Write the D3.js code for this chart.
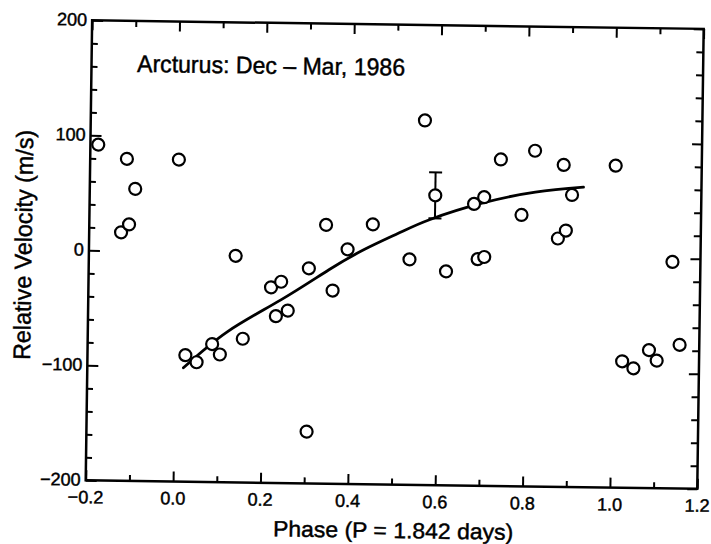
<!DOCTYPE html>
<html>
<head>
<meta charset="utf-8">
<script src="https://cdn.jsdelivr.net/npm/d3@7"></script>
<style>
  html, body { margin: 0; padding: 0; background: #fff; }
  svg { display: block; }
  text { font-family: "Liberation Sans", Arial, sans-serif; fill: #000; stroke: #000; stroke-width: 0.45; }
</style>
</head>
<body>
<svg id="chart" width="711" height="544"></svg>
<script>
// observed radial velocities (phase, m/s)
const phase = [
    -0.182, -0.116, -0.096, -0.127, -0.109, 0.003,
    0.024, 0.050, 0.085, 0.103, 0.136, 0.155,
    0.218, 0.241, 0.230, 0.257, 0.304, 0.304, 0.342, 0.359, 0.392,
    0.449, 0.534, 0.565, 0.618, 0.680, 0.690, 0.703, 0.705,
    0.740, 0.789, 0.818, 0.873, 0.884, 0.891, 0.904, 1.003,
    1.024, 1.050, 1.085, 1.103, 1.136, 1.155
];
const velocity = [
    92, 80, 54, 16, 23, 80,
    -90, -96, -80, -89, -3, -75,
    -30, -25, -55, -50, -13, -155, 25, -32, 4,
    26, -4, 117, -14, 45, -3, 51, -1,
    84, 36, 92, 16, 80, 23, 54, 80,
    -90, -96, -80, -89, -3, -75
];

// the one point with an error bar
const errPhase = [0.591];
const errVelocity = [52];
const errSize = [20];

// fitted curve
const fitPhase = [0.02, 0.12, 0.24, 0.35, 0.43, 0.51, 0.58, 0.70, 0.82, 0.93];
const fitVelocity = [-101, -69, -41, -14, 4, 19, 31, 46, 56, 61];

// axis ticks
const xTicks = [-0.2, 0.0, 0.2, 0.4, 0.6, 0.8, 1.0, 1.2];
const xTickLabels = ['\u22120.2', '0.0', '0.2', '0.4', '0.6', '0.8', '1.0', '1.2'];
const yTicks = [-200, -100, 0, 100, 200];
const yTickLabels = ['\u2212200', '\u2212100', '0', '100', '200'];

const svg = d3.select('#chart');

const L = 88.9, R = 700.5, T = 24.6, B = 484.6;
const CX = (L + R) / 2, CY = (T + B) / 2;
const ANGLE = 0.8; // the scanned page is slightly tilted

const x = d3.scaleLinear().domain([-0.2, 1.2]).range([L, R]);
const y = d3.scaleLinear().domain([-200, 200]).range([B, T]);

const g = svg.append('g')
    .attr('transform', `rotate(${ANGLE},${CX},${CY})`);

// frame
g.append('rect')
    .attr('x', L).attr('y', T)
    .attr('width', R - L).attr('height', B - T)
    .attr('fill', 'none')
    .attr('stroke', '#000')
    .attr('stroke-width', 2.5);

const minorX = d3.range(-0.1, 1.2, 0.2);
const minorY = d3.range(-180, 200, 20).filter(v => Math.abs(v % 100) > 1);

const noDomain = sel => {
    sel.select('.domain').remove();
    sel.selectAll('.tick line').attr('stroke', '#000').attr('stroke-width', 2);
};

const addAxis = (axis, transform) => {
    g.append('g')
        .attr('transform', transform)
        .call(axis.tickFormat(''))
        .call(noDomain);
};

addAxis(d3.axisBottom(x).tickValues(xTicks).tickSize(-10), `translate(0,${B})`);
addAxis(d3.axisBottom(x).tickValues(minorX).tickSize(-6), `translate(0,${B})`);
addAxis(d3.axisTop(x).tickValues(xTicks).tickSize(-10), `translate(0,${T})`);
addAxis(d3.axisTop(x).tickValues(minorX).tickSize(-6), `translate(0,${T})`);
addAxis(d3.axisLeft(y).tickValues(yTicks).tickSize(-11), `translate(${L},0)`);
addAxis(d3.axisLeft(y).tickValues(minorY).tickSize(-6), `translate(${L},0)`);
addAxis(d3.axisRight(y).tickValues(yTicks).tickSize(-10), `translate(${R},0)`);
addAxis(d3.axisRight(y).tickValues(minorY).tickSize(-7), `translate(${R},0)`);

// fitted curve
const fit = fitPhase.map((p, i) => [p, fitVelocity[i]]);
g.append('path')
    .datum(fit)
    .attr('fill', 'none')
    .attr('stroke', '#000')
    .attr('stroke-width', 2.8)
    .attr('stroke-linecap', 'round')
    .attr('d', d3.line()
        .x(d => x(d[0]))
        .y(d => y(d[1]))
        .curve(d3.curveNatural));

// error bar
errPhase.forEach((p, i) => {
    const lo = errVelocity[i] - errSize[i], hi = errVelocity[i] + errSize[i];
    const eb = g.append('g')
        .attr('stroke', '#000')
        .attr('stroke-width', 2);
    eb.append('line')
        .attr('x1', x(p)).attr('x2', x(p))
        .attr('y1', y(lo)).attr('y2', y(hi));
    [lo, hi].forEach(v => {
        eb.append('line')
            .attr('x1', x(p) - 6.5).attr('x2', x(p) + 6.5)
            .attr('y1', y(v)).attr('y2', y(v));
    });
});

// points
const points = phase.map((p, i) => ({p, v: velocity[i]}))
    .concat(errPhase.map((p, i) => ({p, v: errVelocity[i]})));
g.selectAll('circle.obs')
    .data(points)
    .join('circle')
    .attr('class', 'obs')
    .attr('cx', d => x(d.p))
    .attr('cy', d => y(d.v))
    .attr('r', 6)
    .attr('fill', '#fff')
    .attr('stroke', '#000')
    .attr('stroke-width', 2.2);

// tick labels
g.append('g')
    .selectAll('text')
    .data(xTicks)
    .join('text')
    .attr('x', d => x(d))
    .attr('y', B + 23)
    .attr('text-anchor', 'middle')
    .attr('font-size', 18)
    .text((d, i) => xTickLabels[i]);

g.append('g')
    .selectAll('text')
    .data(yTicks)
    .join('text')
    .attr('x', L - 5)
    .attr('y', d => y(d) + 5.5)
    .attr('text-anchor', 'end')
    .attr('font-size', 18)
    .text((d, i) => yTickLabels[i]);

// title
g.append('text')
    .attr('x', 134.5)
    .attr('y', 75.5)
    .attr('font-size', 24)
    .attr('textLength', 268)
    .attr('lengthAdjust', 'spacingAndGlyphs')
    .text('Arcturus: Dec \u2013 Mar, 1986');

// axis titles
g.append('text')
    .attr('x', 277)
    .attr('y', 538)
    .attr('font-size', 22)
    .attr('textLength', 240)
    .attr('lengthAdjust', 'spacingAndGlyphs')
    .text('Phase (P = 1.842 days)');

g.append('text')
    .attr('transform', 'translate(31.6,365) rotate(-90)')
    .attr('font-size', 24)
    .attr('textLength', 230)
    .attr('lengthAdjust', 'spacingAndGlyphs')
    .text('Relative Velocity (m/s)');
</script>
</body>
</html>
